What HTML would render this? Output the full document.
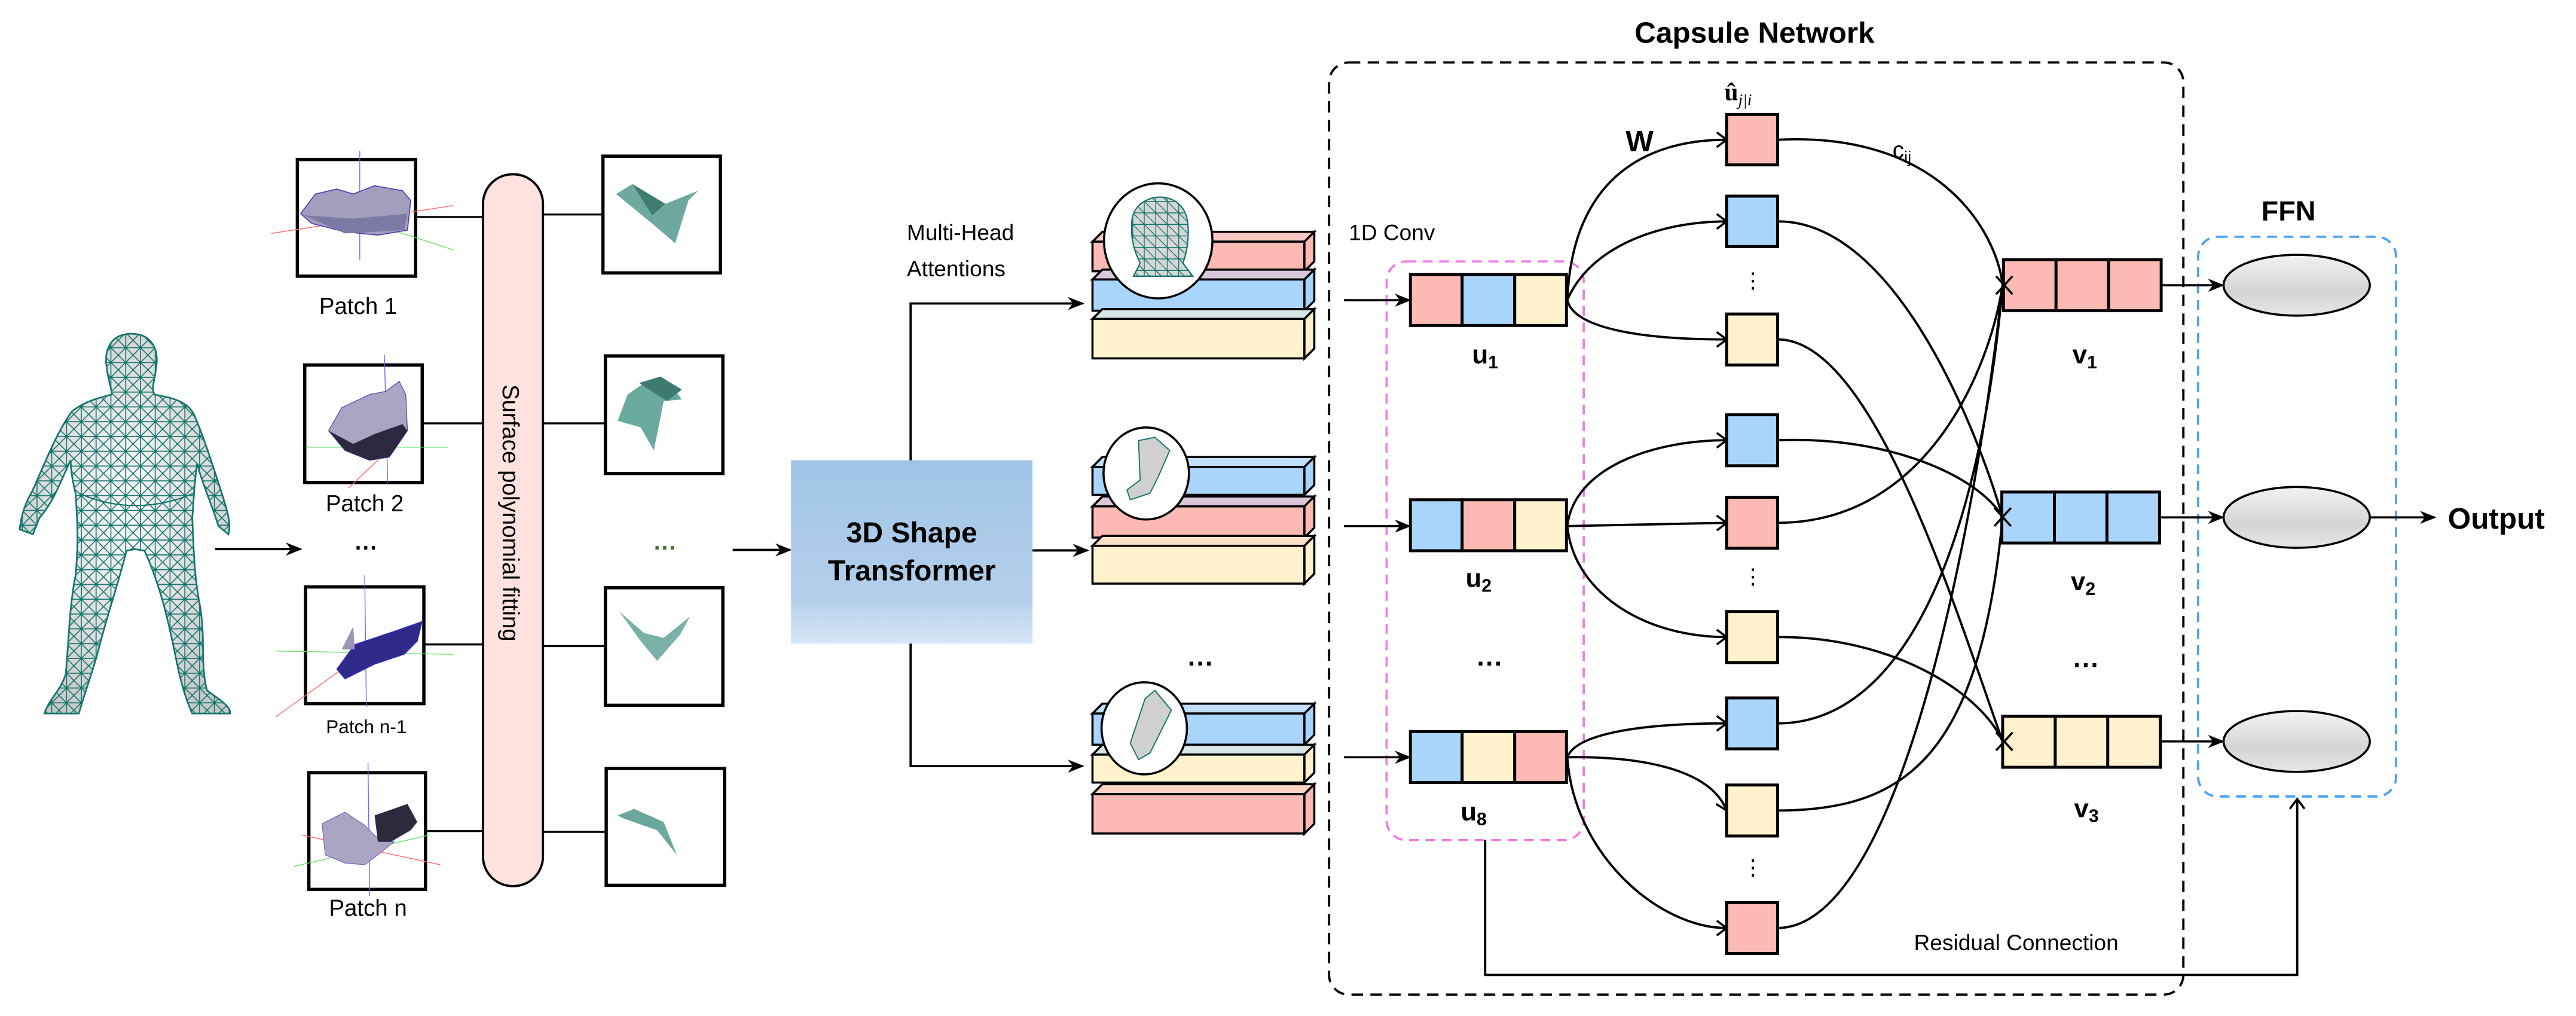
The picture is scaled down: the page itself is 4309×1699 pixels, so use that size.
<!DOCTYPE html>
<html><head><meta charset="utf-8"><style>html,body{margin:0;padding:0;background:#fff}svg{display:block}</style></head>
<body>
<svg width="4309" height="1699" viewBox="0 0 1568 618" preserveAspectRatio="none" xmlns="http://www.w3.org/2000/svg" font-family="'Liberation Sans', sans-serif">
<defs>
<linearGradient id="tg" x1="0" y1="0" x2="0" y2="1"><stop offset="0" stop-color="#9fc4e6"/><stop offset="0.75" stop-color="#b4cfea"/><stop offset="1" stop-color="#d6e6f5"/></linearGradient>
<linearGradient id="eg" x1="0" y1="0" x2="0" y2="1"><stop offset="0" stop-color="#f2f2f2"/><stop offset="0.6" stop-color="#d4d4d4"/><stop offset="1" stop-color="#e6e6e6"/></linearGradient>
<radialGradient id="hg" cx="0.5" cy="0.45" r="0.6"><stop offset="0" stop-color="#ffffff"/><stop offset="1" stop-color="#c8c8c8"/></radialGradient>
<pattern id="mesh" width="9" height="9" patternUnits="userSpaceOnUse"><path d="M0 0L9 9M9 0L0 9M0 4.5H9M4.5 0V9" stroke="#13756d" stroke-width="0.6" fill="none"/></pattern>
<pattern id="mesh2" width="7" height="7" patternUnits="userSpaceOnUse"><path d="M0 0L7 7M0 3.5H7M3.5 0V7" stroke="#13756d" stroke-width="0.5" fill="none"/></pattern>
<marker id="ar" markerWidth="10" markerHeight="8" refX="9" refY="4" orient="auto" markerUnits="userSpaceOnUse"><path d="M0 0L10 4L0 8L3 4Z" fill="#000"/></marker>
<marker id="ch" markerWidth="8" markerHeight="10" refX="7" refY="5" orient="auto" markerUnits="userSpaceOnUse"><path d="M1 0.5L7 5L1 9.5" fill="none" stroke="#000" stroke-width="1.3"/></marker>
</defs>

<!-- Human figure -->
<path id="body" d="M80 203 C92 203 97 212 95 224 C94 232 92 236 94 240 C105 242 114 244 118 252 C125 268 130 285 135 300 C138 310 141 318 139 325 L133 320 L131 314 C126 300 122 290 120 282 C118 295 118 305 117 315 C118 335 118 350 122 370 C125 390 122 405 126 420 C133 425 141 430 140 434 L117 434 C113 425 110 415 107 400 C102 375 97 355 88 335 L82 334 L77 335 C72 355 65 375 60 395 C56 410 52 420 48 434 L27 434 C30 425 37 420 40 410 C42 390 42 370 46 350 C48 330 47 315 46 300 C44 292 43 285 43 280 C38 290 33 305 24 315 L20 325 L12 322 C13 312 16 305 20 298 C28 280 35 262 44 250 C52 244 60 242 68 240 C68 236 66 232 65 224 C63 212 68 203 80 203 Z" fill="url(#hg)" stroke="#13756d" stroke-width="1"/>
<clipPath id="bc"><use href="#body"/></clipPath>
<rect x="10" y="200" width="135" height="240" fill="url(#mesh)" clip-path="url(#bc)"/>
<path d="M48 300 C70 310 95 310 118 300" fill="none" stroke="#13756d" stroke-width="0.8"/>
<line x1="131" y1="334" x2="183" y2="334" stroke="#000" stroke-width="1.4" marker-end="url(#ar)"/>

<!-- Patch boxes -->
<g stroke="#000" stroke-width="2" fill="#fff">
<rect x="181" y="97" width="72" height="71"/>
<rect x="185.5" y="222" width="71.5" height="71.5"/>
<rect x="186" y="357" width="72" height="71"/>
<rect x="188" y="470" width="71" height="71"/>
</g>
<!-- patch 1 content -->
<line x1="219" y1="92" x2="219" y2="158" stroke="#66f" stroke-width="0.5"/>
<line x1="165" y1="142" x2="276" y2="125" stroke="#f66" stroke-width="0.5"/>
<line x1="220" y1="134" x2="276" y2="152" stroke="#6d6" stroke-width="0.5"/>
<path d="M192 118 L205 115 L215 118 L228 113 L245 116 L250 122 L248 140 L230 143 L210 141 L190 136 L183 130 Z" fill="#a29fbd" stroke="#4a3fb0" stroke-width="0.6"/>
<path d="M185 131 L215 133 L248 130 L246 140 L210 142 Z" fill="#7d79a5"/>
<!-- patch 2 -->
<line x1="234" y1="216" x2="236" y2="294" stroke="#66f" stroke-width="0.5"/>
<line x1="186" y1="272" x2="273" y2="272" stroke="#6d6" stroke-width="0.5"/>
<line x1="212" y1="297" x2="232" y2="278" stroke="#f66" stroke-width="0.5"/>
<path d="M200 262 L208 248 L225 240 L235 238 L243 232 L247 240 L248 262 L237 278 L225 280 L210 274 Z" fill="#a9a6c4" stroke="#5a50b0" stroke-width="0.5"/>
<path d="M200 262 L215 270 L228 264 L245 258 L248 262 L237 278 L225 280 L210 274 Z" fill="#2c2840"/>
<!-- patch n-1 -->
<line x1="222" y1="350" x2="223" y2="430" stroke="#66f" stroke-width="0.5"/>
<line x1="168" y1="396" x2="276" y2="398" stroke="#6d6" stroke-width="0.5"/>
<line x1="168" y1="436" x2="222" y2="397" stroke="#f66" stroke-width="0.5"/>
<path d="M205 407 L216 392 L240 384 L257 378 L254 390 L246 398 L228 404 L210 413 Z" fill="#2e2a8a" stroke="#3a35c0" stroke-width="0.5"/>
<path d="M208 395 L215 381 L216 395 Z" fill="#9995b5"/>
<!-- patch n -->
<line x1="224" y1="464" x2="225" y2="545" stroke="#66f" stroke-width="0.5"/>
<line x1="184" y1="508" x2="268" y2="526" stroke="#f66" stroke-width="0.5"/>
<line x1="179" y1="527" x2="261" y2="508" stroke="#6d6" stroke-width="0.5"/>
<path d="M196 501 L210 494 L222 502 L232 512 L240 512 L230 520 L222 526 L210 525 L198 520 Z" fill="#aaa6c2" stroke="#6a62b8" stroke-width="0.4"/>
<path d="M228 496 L248 489 L254 500 L250 505 L238 512 L230 512 Z" fill="#2e2a3e"/>
<text x="218" y="191" font-size="14" text-anchor="middle">Patch 1</text>
<text x="222" y="311" font-size="14" text-anchor="middle">Patch 2</text>
<text x="223" y="338" font-size="14" text-anchor="middle" font-weight="bold">···</text>
<text x="223" y="446" font-size="11.5" text-anchor="middle">Patch n-1</text>
<text x="224" y="557" font-size="14" text-anchor="middle">Patch n</text>

<!-- connectors to pillar -->
<g stroke="#000" stroke-width="1.2">
<line x1="253" y1="132" x2="294" y2="132"/><line x1="257" y1="257.5" x2="294" y2="257.5"/>
<line x1="258" y1="392" x2="294" y2="392"/><line x1="259" y1="505.5" x2="294" y2="505.5"/>
<line x1="330" y1="130.5" x2="367" y2="130.5"/><line x1="330" y1="257.5" x2="368" y2="257.5"/>
<line x1="330" y1="393" x2="368" y2="393"/><line x1="330" y1="506" x2="369" y2="506"/>
</g>
<rect x="294" y="106" width="36.5" height="433" rx="18" fill="#fde2dd" stroke="#000" stroke-width="1.4"/>
<text transform="translate(306 312) rotate(90)" font-size="14" text-anchor="middle">Surface polynomial fitting</text>

<!-- fitted surfaces -->
<g stroke="#000" stroke-width="2" fill="#fff">
<rect x="367" y="95" width="71.5" height="71"/>
<rect x="368.5" y="216.5" width="71.5" height="71.5"/>
<rect x="368.5" y="357.5" width="71.5" height="71.5"/>
<rect x="369" y="467.5" width="72" height="71"/>
</g>
<path d="M375 118 L385 112 L405 124 L425 116 L419 122 L411 148 L397 136 Z" fill="#6ea99f"/>
<path d="M385 112 L405 124 L397 131 Z" fill="#3e7c72"/>
<path d="M376 256 L382 240 L395 231 L410 236 L420 250 L415 243 L404 244 L398 274 L390 260 Z" fill="#6aaa9e"/>
<path d="M389 233 L402 229 L415 237 L406 244 Z" fill="#3d7a70"/>
<path d="M377 372 L392 385 L404 388 L420 375 L414 386 L400 402 L390 390 Z" fill="#7ab0a6"/>
<path d="M376 496 L386 492 L404 500 L412 520 L400 505 L380 498 Z" fill="#6aa89d"/>
<text x="405" y="338" font-size="14" text-anchor="middle" fill="#4a6a30" font-weight="bold">···</text>
<line x1="446" y1="334.5" x2="481" y2="334.5" stroke="#000" stroke-width="1.4" marker-end="url(#ar)"/>

<!-- Transformer -->
<rect x="481.5" y="280" width="147" height="111.5" fill="url(#tg)"/>
<text x="555" y="330" font-size="17.5" font-weight="bold" text-anchor="middle">3D Shape</text>
<text x="555" y="353" font-size="17.5" font-weight="bold" text-anchor="middle">Transformer</text>
<path d="M554.3 280 V184.6 H659" fill="none" stroke="#000" stroke-width="1.4" marker-end="url(#ar)"/>
<path d="M554.3 391.5 V466 H659" fill="none" stroke="#000" stroke-width="1.4" marker-end="url(#ar)"/>
<line x1="628.5" y1="334.8" x2="662" y2="334.8" stroke="#000" stroke-width="1.4" marker-end="url(#ar)"/>
<text x="552" y="146" font-size="13.5">Multi-Head</text>
<text x="552" y="168" font-size="13.5">Attentions</text>

<!-- stacks -->
<g stroke="#000" stroke-width="1.3">
<!-- stack1 -->
<polygon points="665,147 671,141 800,141 794,147" fill="#fdc8c3"/><rect x="665" y="147" width="129" height="18" fill="#fdb9b4"/><polygon points="794,147 800,141 800,159 794,165" fill="#fdb9b4"/>
<polygon points="665,170 671,164 800,164 794,170" fill="#d9c6dc"/><rect x="665" y="170" width="129" height="19" fill="#a9d4fb"/><polygon points="794,170 800,164 800,183 794,189" fill="#a9d4fb"/>
<polygon points="665,194 671,188 800,188 794,194" fill="#d7e6e4"/><rect x="665" y="194" width="129" height="24" fill="#fff2cc"/><polygon points="794,194 800,188 800,212 794,218" fill="#fff2cc"/>
<!-- stack2 -->
<polygon points="665,284 671,278 800,278 794,284" fill="#c1defb"/><rect x="665" y="284" width="129" height="17" fill="#a9d4fb"/><polygon points="794,284 800,278 800,295 794,301" fill="#a9d4fb"/>
<polygon points="665,308 671,302 800,302 794,308" fill="#dcc6d8"/><rect x="665" y="308" width="129" height="19" fill="#fdb9b4"/><polygon points="794,308 800,302 800,321 794,327" fill="#fdb9b4"/>
<polygon points="665,332 671,326 800,326 794,332" fill="#fde0c8"/><rect x="665" y="332" width="129" height="23" fill="#fff2cc"/><polygon points="794,332 800,326 800,349 794,355" fill="#fff2cc"/>
<!-- stack3 -->
<polygon points="665,434 671,428 800,428 794,434" fill="#c1defb"/><rect x="665" y="434" width="129" height="19" fill="#a9d4fb"/><polygon points="794,434 800,428 800,447 794,453" fill="#a9d4fb"/>
<polygon points="665,459 671,453 800,453 794,459" fill="#d7e6e4"/><rect x="665" y="459" width="129" height="17" fill="#fff2cc"/><polygon points="794,459 800,453 800,470 794,476" fill="#fff2cc"/>
<polygon points="665,483 671,477 800,477 794,483" fill="#fdd4c4"/><rect x="665" y="483" width="129" height="24" fill="#fdb9b4"/><polygon points="794,483 800,477 800,501 794,507" fill="#fdb9b4"/>
</g>
<ellipse cx="705" cy="146.5" rx="33" ry="35" fill="#fff" stroke="#000" stroke-width="1.3"/>
<path d="M689 134 C690 124 700 119 708 120 C716 121 722 126 723 136 C724 146 722 155 720 160 L726 168 L690 168 L694 160 C690 152 688 144 689 134 Z" fill="#d6d6d6" stroke="#13756d" stroke-width="0.8"/>
<path d="M689 134 C690 124 700 119 708 120 C716 121 722 126 723 136 C724 146 722 155 720 160 L726 168 L690 168 L694 160 C690 152 688 144 689 134 Z" fill="url(#mesh2)"/>
<ellipse cx="697.7" cy="288" rx="26" ry="28" fill="#fff" stroke="#000" stroke-width="1.3"/>
<path d="M693 268 L703 266 L712 274 L705 290 L700 300 L688 304 L686 298 L694 292 Z" fill="#d0d0d0" stroke="#13756d" stroke-width="0.7"/>
<ellipse cx="696.5" cy="443" rx="26" ry="28" fill="#fff" stroke="#000" stroke-width="1.3"/>
<path d="M697 425 L703 420 L713 432 L705 448 L700 458 L693 462 L688 452 L692 440 Z" fill="#d0d0d0" stroke="#13756d" stroke-width="0.7"/>
<text x="731" y="409" font-size="16" text-anchor="middle" font-weight="bold">···</text>

<!-- Capsule network -->
<rect x="809" y="38" width="520" height="567" rx="12" fill="none" stroke="#000" stroke-width="1.4" stroke-dasharray="7,4.5"/>
<text x="1068" y="26" font-size="18" font-weight="bold" text-anchor="middle">Capsule Network</text>
<text x="821" y="146" font-size="13.5">1D Conv</text>
<rect x="844" y="159" width="120" height="352" rx="12" fill="none" stroke="#ee77e8" stroke-width="1.3" stroke-dasharray="6,4"/>
<g stroke="#000" stroke-width="1.3">
<line x1="818" y1="182.6" x2="858" y2="182.6" marker-end="url(#ar)"/>
<line x1="818" y1="320" x2="858" y2="320" marker-end="url(#ar)"/>
<line x1="818" y1="460.6" x2="858" y2="460.6" marker-end="url(#ar)"/>
</g>
<g stroke="#000" stroke-width="1.8">
<rect x="858.5" y="167" width="31.5" height="31" fill="#fdb9b4"/><rect x="890" y="167" width="32" height="31" fill="#a9d4fb"/><rect x="922" y="167" width="31.5" height="31" fill="#fff2cc"/>
<rect x="858.5" y="304" width="31.5" height="31" fill="#a9d4fb"/><rect x="890" y="304" width="32" height="31" fill="#fdb9b4"/><rect x="922" y="304" width="31.5" height="31" fill="#fff2cc"/>
<rect x="858.5" y="445" width="31.5" height="31" fill="#a9d4fb"/><rect x="890" y="445" width="32" height="31" fill="#fff2cc"/><rect x="922" y="445" width="31.5" height="31" fill="#fdb9b4"/>
</g>
<text x="904" y="221" font-size="16" font-weight="bold" text-anchor="middle">u<tspan font-size="11" dy="3">1</tspan></text>
<text x="900" y="357" font-size="16" font-weight="bold" text-anchor="middle">u<tspan font-size="11" dy="3">2</tspan></text>
<text x="907" y="409" font-size="16" font-weight="bold" text-anchor="middle">···</text>
<text x="897" y="499" font-size="16" font-weight="bold" text-anchor="middle">u<tspan font-size="11" dy="3">8</tspan></text>

<!-- u -> uhat curves -->
<g fill="none" stroke="#000" stroke-width="1.4" marker-end="url(#ch)">
<path d="M954 182.5 C957 110 1000 85 1051 85"/>
<path d="M954 182.5 C968 150 1010 134.7 1051 134.7"/>
<path d="M954 182.5 C958 200 1000 206.5 1051 206.5"/>
<path d="M954 320 C958 285 1005 267.8 1051 267.8"/>
<path d="M954 320 L1051 318"/>
<path d="M954 320 C958 360 1000 387.5 1051 387.5"/>
<path d="M954 460.6 C960 445 1005 440 1051 440"/>
<path d="M954 460.6 C990 460 1040 465 1051 493"/>
<path d="M954 460.6 C958 520 1010 564.5 1051 564.5"/>
</g>
<text x="998" y="92" font-size="18" font-weight="bold" text-anchor="middle">W</text>
<text x="1058" y="61" font-size="15" font-family="'Liberation Serif', serif" font-weight="bold" text-anchor="middle">û<tspan font-size="10" font-style="italic" font-weight="normal" dy="3">j|i</tspan></text>
<text x="1152" y="96" font-size="14">c<tspan font-size="10" dy="3">ij</tspan></text>

<!-- uhat -> v curves -->
<g fill="none" stroke="#000" stroke-width="1.4">
<path d="M1082 85 C1180 80 1215 140 1219 173.4"/>
<path d="M1082 134.7 C1150 134 1200 250 1219 314.7"/>
<path d="M1082 206.5 C1140 206 1190 370 1219 451"/>
<path d="M1082 267.8 C1150 265 1205 290 1219 314.7"/>
<path d="M1082 318 C1170 318 1210 230 1219 173.4"/>
<path d="M1082 387.5 C1150 387 1205 420 1219 451"/>
<path d="M1082 440 C1160 440 1205 330 1219 173.4"/>
<path d="M1082 493 C1160 493 1205 460 1219 314.7"/>
<path d="M1082 564.5 C1160 564 1205 300 1219 173.4"/>
</g>
<g stroke="#000" stroke-width="1.8">
<rect x="1051" y="69.6" width="31" height="30.7" fill="#fdb9b4"/>
<rect x="1051" y="119.3" width="31" height="30.7" fill="#a9d4fb"/>
<rect x="1051" y="191" width="31" height="31" fill="#fff2cc"/>
<rect x="1051" y="252.3" width="31" height="31" fill="#a9d4fb"/>
<rect x="1051" y="302.5" width="31" height="31" fill="#fdb9b4"/>
<rect x="1051" y="372" width="31" height="31" fill="#fff2cc"/>
<rect x="1051" y="424.5" width="31" height="31" fill="#a9d4fb"/>
<rect x="1051" y="477.5" width="31" height="31" fill="#fff2cc"/>
<rect x="1051" y="549" width="31" height="31" fill="#fdb9b4"/>
</g>
<g font-size="13" text-anchor="middle"><text x="1067" y="175">⋮</text><text x="1067" y="355">⋮</text><text x="1067" y="532">⋮</text></g>

<!-- v boxes -->
<g stroke="#000" stroke-width="1.8">
<rect x="1219.5" y="158" width="32" height="31" fill="#fdb9b4"/><rect x="1251.5" y="158" width="32" height="31" fill="#fdb9b4"/><rect x="1283.5" y="158" width="32" height="31" fill="#fdb9b4"/>
<rect x="1218.5" y="299.3" width="32" height="31" fill="#a9d4fb"/><rect x="1250.5" y="299.3" width="32" height="31" fill="#a9d4fb"/><rect x="1282.5" y="299.3" width="32" height="31" fill="#a9d4fb"/>
<rect x="1219" y="435.7" width="32" height="31" fill="#fff2cc"/><rect x="1251" y="435.7" width="32" height="31" fill="#fff2cc"/><rect x="1283" y="435.7" width="32" height="31" fill="#fff2cc"/>
</g>
<g stroke="#000" stroke-width="1.3">
<path d="M1215 168 L1225 179 M1215 179 L1225 168"/>
<path d="M1214 309 L1224 320 M1214 320 L1224 309"/>
<path d="M1215 445.5 L1225 456.5 M1215 456.5 L1225 445.5"/>
</g>
<text x="1269" y="221" font-size="16" font-weight="bold" text-anchor="middle">v<tspan font-size="11" dy="3">1</tspan></text>
<text x="1268" y="359" font-size="16" font-weight="bold" text-anchor="middle">v<tspan font-size="11" dy="3">2</tspan></text>
<text x="1270" y="410" font-size="16" font-weight="bold" text-anchor="middle">···</text>
<text x="1270" y="497" font-size="16" font-weight="bold" text-anchor="middle">v<tspan font-size="11" dy="3">3</tspan></text>

<!-- FFN -->
<rect x="1338" y="144" width="120.5" height="340.5" rx="12" fill="none" stroke="#4da3f5" stroke-width="1.4" stroke-dasharray="6,4"/>
<text x="1393" y="134" font-size="17" font-weight="bold" text-anchor="middle">FFN</text>
<g stroke="#000" stroke-width="1.3">
<line x1="1315.5" y1="173.5" x2="1353" y2="173.5" marker-end="url(#ar)"/>
<line x1="1314.5" y1="314.7" x2="1353" y2="314.7" marker-end="url(#ar)"/>
<line x1="1315" y1="451" x2="1353" y2="451" marker-end="url(#ar)"/>
<line x1="1442.6" y1="314.7" x2="1482" y2="314.7" marker-end="url(#ar)"/>
</g>
<g fill="url(#eg)" stroke="#000" stroke-width="1.3">
<ellipse cx="1398" cy="173.5" rx="44.5" ry="18.5"/>
<ellipse cx="1398" cy="314.7" rx="44.5" ry="18.5"/>
<ellipse cx="1398" cy="451" rx="44.5" ry="18.5"/>
</g>
<text x="1490" y="321.5" font-size="18" font-weight="bold">Output</text>

<!-- residual -->
<path d="M904 511 V593 H1398.3 V486" fill="none" stroke="#000" stroke-width="1.4" marker-end="url(#ch)"/>
<text x="1165" y="578" font-size="13.5">Residual Connection</text>
</svg>
</body></html>
